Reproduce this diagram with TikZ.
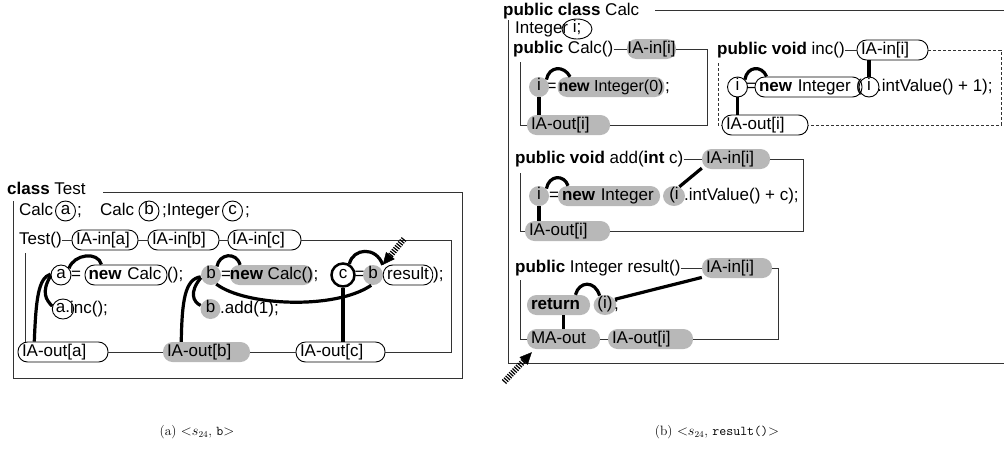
\documentclass[tikz,border=0pt]{standalone}
\usepackage{fontspec}
\newfontfamily\dgfam{Liberation Sans}
\usetikzlibrary{shapes.geometric,arrows.meta,calc}
\newcommand\dgfont{\dgfam\fontsize{17}{19}\selectfont}
\definecolor{sgray}{gray}{0.72}
\begin{document}
\begin{tikzpicture}[x=1pt,y=-1pt,
 tx/.style={font=\dgfont, inner sep=0pt, text height=12.5pt, text depth=4pt, anchor=west},
 ov/.style={font=\dgfont, inner xsep=4pt, inner ysep=1.75pt, text height=12.5pt, text depth=4pt, draw, line width=0.9pt, rounded corners=9.5pt},
 sh/.style={font=\dgfont, inner xsep=4pt, inner ysep=1.75pt, text height=12.5pt, text depth=4pt, fill=sgray, rounded corners=9.5pt},
 el/.style={font=\dgfont, ellipse, inner sep=0.5pt, text height=9.5pt, text depth=2pt, minimum width=20pt, minimum height=20pt, draw, line width=0.9pt},
 es/.style={el, draw=none, fill=sgray},
 lw/.style={text width=#1, align=left},
 th/.style={line width=3.2pt},
 fr/.style={line width=0.8pt, draw=black!80},
 hatch/.style={line width=6pt, dash pattern=on 1.2pt off 1.3pt},
 head/.style={-{Triangle[length=12pt,width=11pt]}, line width=0.4pt},
 captxt/.style={font=\fontsize{13.5}{15}\selectfont, inner sep=0pt}]
\useasboundingbox (0,0) rectangle (1004,451);

% ---------------- panel (a) ----------------
\node[tx] (ttl) at (7,190) {\textbf{class} Test};
\node[tx] (c1) at (19,211) {Calc};
\node[el] (a1) at (65.5,211) {a};
\node[tx] (s1) at (77,211) {;};
\node[tx] (c2) at (100,211) {Calc};
\node[el] (b1) at (149,211) {b};
\node[tx] (int1) at (162,211) {;Integer};
\node[el] (cc1) at (232.5,211) {c};
\node[tx] (s2) at (245,211) {;};

\node[tx] (tst) at (19,240) {Test()};
\node[ov, lw=58pt] (ia) at (105,240) {IA-in[a]};
\node[ov, lw=63pt] (ib) at (183.5,240) {IA-in[b]};
\node[ov, lw=65pt] (ic) at (264.5,240) {IA-in[c]};

\node[tx] (e1) at (71,275) {=};
\node[el] (a3) at (61,275) {a};
\node[ov, lw=75pt, inner xsep=3.5pt] (nc) at (126,275) {\textbf{new} Calc};
\node[tx] (p1) at (167,275) {();};
\node[tx] (e2) at (221,275) {=};
\node[es] (b3) at (211,275) {b};
\node[sh, inner xsep=0pt] (ncc) at (271.5,275) {\textbf{new} Calc()};
\node[tx] (s3) at (313.5,275) {;};
\node[tx] (e3) at (354.5,275) {=};
\node[el, line width=2.5pt, minimum size=23pt] (c3) at (343,275) {c};
\node[es] (bb) at (373,275) {b};
\node[ov] (res) at (408,275) {result};
\node[tx] (p2) at (433,275) {);};

\node[el] (a4) at (63,309) {a.};
\node[tx] (inc) at (70,309) {inc();};
\node[es] (b4) at (210.5,309) {b};
\node[tx] (add) at (220,309) {.add(1);};

\node[ov, lw=82pt] (oa) at (63,352) {IA-out[a]};
\node[sh, lw=79pt] (ob) at (206.5,352) {IA-out[b]};
\node[ov, lw=81pt] (oc) at (340.5,352) {IA-out[c]};

\draw[fr] (103,192) -- (462,192) -- (462,378) -- (13,378) -- (13,201);
\draw[fr] (tst.east) -- (ia.west) (ia.east) -- (ib.west) (ib.east) -- (ic.west)
  (ic.east) -- (451,240) -- (451,352) -- (oc.east) (oc.west) -- (ob.east)
  (ob.west) -- (oa.east) (25,253) -- (25,342);

\draw[th] (a3.40) .. controls (74,254) and (98,251) .. (nc.157);
\draw[th] (oa.160) .. controls (36,300) and (38,278) .. (a3.175);
\draw[th] (a4.165) .. controls (46,300) and (41,292) .. (a3.185);
\draw[th] (ob.158) .. controls (182,300) and (185,279) .. (b3.190);
\draw[th] (b4.160) .. controls (193,302) and (189,292) .. (b3.195);
\draw[th] (b3.55) .. controls (219,254) and (236,251) .. (ncc.162);
\draw[th] (b3.-60) .. controls (245,306) and (335,310) .. (bb.-100);
\draw[th] (c3.60) .. controls (353,248) and (376,246) .. (res.158);
\draw[th] (c3.south) -- (c3.south |- oc.north);
\coordinate (ha) at (404,239);
\draw[hatch] (ha) -- ($(res.158)!12pt!(ha)$);
\draw[head] ($(res.158)!12pt!(ha)$) -- (res.158);

% ---------------- panel (b) ----------------
\node[tx] (ttl2) at (503,11) {\textbf{public class} Calc};
\node[tx] (intg) at (515,29) {Integer};
\node[el, minimum width=30pt] (ii) at (577,29) {i;};

\node[tx] (cc) at (513,49) {\textbf{public} Calc()};
\node[sh, inner xsep=0.5pt] (iin0) at (651.5,49) {IA-in[i]};
\node[tx] (e4) at (546.5,87) {=};
\node[es] (ci1) at (539,87) {i};
\node[sh, inner xsep=1pt, font=\dgfam\fontsize{16}{18}\selectfont] (ni0) at (611,87) {\textbf{new} Integer(0)};
\node[tx] (s4) at (665,87) {;};
\node[sh, lw=75pt] (oi0) at (568.5,125) {IA-out[i]};

\node[tx] (icn) at (717,50) {\textbf{public void} inc()};
\node[ov, lw=63pt] (iin1) at (892.5,50) {IA-in[i]};
\node[tx] (e5) at (746,87) {=};
\node[el] (ci2) at (737.5,87) {i};
\node[ov, lw=99pt] (ni1) at (808.5,87) {\textbf{new} Integer};
\node[tx] (lp) at (856,87) {(};
\node[el] (ci3) at (869,87) {i};
\node[tx] (iv1) at (877,87) {.intValue() + 1);};
\node[ov, lw=78pt] (oi1) at (765,125) {IA-out[i]};

\node[tx] (adn) at (515,159) {\textbf{public void} add(\textbf{int} c)};
\node[sh, lw=60pt] (iin2) at (736,159) {IA-in[i]};
\node[tx] (e6) at (549,196) {=};
\node[es] (ci4) at (539,196) {i};
\node[sh, lw=94pt] (ni2) at (609,196) {\textbf{new} Integer};
\node[es, minimum width=22pt] (ci5) at (674,196) {(i};
\node[tx] (iv2) at (684,196) {.intValue() + c);};
\node[sh, lw=77pt] (oi2) at (567.5,231) {IA-out[i]};

\node[tx] (rsn) at (515,268) {\textbf{public} Integer result()};
\node[sh, lw=62pt] (iin3) at (737,268) {IA-in[i]};
\node[sh, lw=55pt] (ret) at (558.5,305) {\textbf{return}};
\node[es] (ci6) at (605,305) {(i)};
\node[tx] (s5) at (614,305) {;};
\node[sh, lw=65pt] (mao) at (563.5,339) {MA-out};
\node[sh, lw=77pt] (oi3) at (650.5,339) {IA-out[i]};

\draw[fr] (655,10) -- (1004,10) (508,20) -- (508,363) -- (1004,363);
\draw[fr] (cc.east) -- (iin0.west) (iin0.east) -- (707,49) -- (707,125) -- (oi0.east)
  (520,62) |- (oi0.west);
\draw[fr] (icn.east) -- (iin1.west);
\draw[fr, dash pattern=on 3pt off 2pt] (iin1.east) -- (1001,50) -- (1001,125) -- (oi1.east)
  (718,63) |- (oi1.west);
\draw[fr] (adn.east) -- (iin2.west) (iin2.east) -- (803,159) -- (803,231) -- (oi2.east)
  (520,173) |- (oi2.west);
\draw[fr] (rsn.east) -- (iin3.west) (iin3.east) -- (778,268) -- (778,339) -- (oi3.east)
  (mao.east) -- (oi3.west) (520,280) |- (mao.west);

\draw[th] (ci1.45) .. controls (549,66) and (564,65) .. (ni0.166);
\draw[th] (ci1.south) -- (ci1.south |- oi0.north);
\draw[th] (ci2.45) .. controls (747,66) and (762,65) .. (ni1.166);
\draw[th] (ci3.north |- iin1.south) -- (ci3.north);
\draw[th] (ci2.south) -- (ci2.south |- oi1.north);
\draw[th] (ci4.45) .. controls (549,175) and (564,174) .. (ni2.166);
\draw[th] (iin2.195) -- (ci5.60);
\draw[th] (ci4.south) -- (ci4.south |- oi2.north);
\draw[th] (ret.31) .. controls (579,281) and (595,280) .. (ci6.120);
\draw[th] (iin3.195) -- (ci6.30);
\draw[th] (mao.north |- ret.south) -- (mao.north);
\coordinate (hb) at (504,382);
\coordinate (tb) at ($(mao.south west)+(5,3)$);
\draw[hatch] (hb) -- ($(tb)!12pt!(hb)$);
\draw[head] ($(tb)!12pt!(hb)$) -- (tb);

% ---------------- captions ----------------
\node[captxt] (capa) at (197,432) {(a) $\mathord{<}s_{24}$, \texttt{b}$\mathord{>}$};
\node[captxt] (capb) at (717,432) {(b) $\mathord{<}s_{24}$, \texttt{result()}$\mathord{>}$};
\end{tikzpicture}
\end{document}
